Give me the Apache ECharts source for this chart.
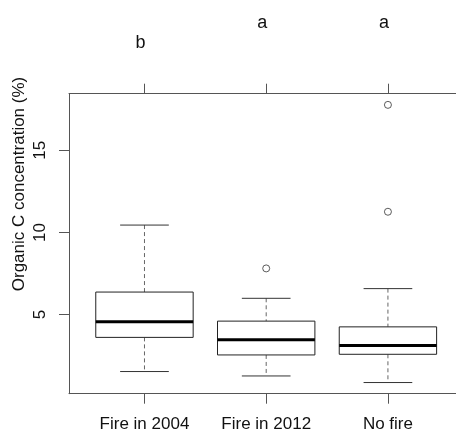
<!DOCTYPE html>
<html>
<head>
<meta charset="utf-8">
<script src="https://cdn.jsdelivr.net/npm/echarts@6/dist/echarts.min.js"></script>
<style>
  html, body { margin: 0; padding: 0; background: #fff; }
  #chart { width: 456px; height: 436px; }
</style>
</head>
<body>
<div id="chart"></div>
<script>
// groups and boxplot stats
const categories = ['Fire in 2004', 'Fire in 2012', 'No fire'];
const whiskerLow = [1.53, 1.26, 0.86];
const q1 = [3.61, 2.54, 2.58];
const median = [4.56, 3.46, 3.12];
const q3 = [6.37, 4.60, 4.25];
const whiskerHigh = [10.45, 5.99, 6.58];
const outliers = [[2, 7.81], [3, 11.26], [3, 17.77]];
const groupLetters = ['b', 'a', 'a'];
const yTicks = [5, 10, 15];
const xTicks = [1, 2, 3];

const FONT = "'Liberation Sans', Arial, sans-serif";
const AXIS_COLOR = '#555';

const boxData = categories.map((c, i) => [i + 1, whiskerLow[i], q1[i], median[i], q3[i], whiskerHigh[i]]);

function renderBox(params, api) {
  const x = api.value(0);
  const pLo = api.coord([x, api.value(1)]);
  const pQ1 = api.coord([x, api.value(2)]);
  const pMed = api.coord([x, api.value(3)]);
  const pQ3 = api.coord([x, api.value(4)]);
  const pHi = api.coord([x, api.value(5)]);
  const cx = pMed[0];
  const half = api.size([0.8, 0])[0] / 2;
  const cap = api.size([0.4, 0])[0] / 2;
  const dashed = { stroke: '#666', lineWidth: 1, lineDash: [4, 3] };
  const solid = { stroke: '#333', lineWidth: 1 };
  return {
    type: 'group',
    children: [
      { type: 'line', shape: { x1: cx, y1: pHi[1], x2: cx, y2: pQ3[1] }, style: dashed },
      { type: 'line', shape: { x1: cx, y1: pQ1[1], x2: cx, y2: pLo[1] }, style: dashed },
      { type: 'line', shape: { x1: cx - cap, y1: pHi[1], x2: cx + cap, y2: pHi[1] }, style: solid },
      { type: 'line', shape: { x1: cx - cap, y1: pLo[1], x2: cx + cap, y2: pLo[1] }, style: solid },
      { type: 'rect', shape: { x: cx - half, y: pQ3[1], width: half * 2, height: pQ1[1] - pQ3[1] },
        style: { fill: '#fff', stroke: '#222', lineWidth: 1 } },
      { type: 'line', shape: { x1: cx - half, y1: pMed[1], x2: cx + half, y2: pMed[1] },
        style: { stroke: '#000', lineWidth: 3 } }
    ]
  };
}

const chart = echarts.init(document.getElementById('chart'));

const option = {
  backgroundColor: '#fff',
  animation: false,
  grid: { left: 69, top: 93.7, width: 394.4, height: 300, outerBoundsMode: 'none' },
  xAxis: [
    {
      type: 'value', position: 'bottom', min: 0.38, max: 3.62,
      axisLine: { show: true, lineStyle: { color: AXIS_COLOR } },
      axisTick: { show: true, customValues: xTicks, length: 10, lineStyle: { color: AXIS_COLOR } },
      axisLabel: {
        customValues: xTicks, margin: 22, fontSize: 17, fontFamily: FONT, color: '#111',
        formatter: v => categories[v - 1]
      },
      splitLine: { show: false }
    },
    {
      type: 'value', position: 'top', min: 0.38, max: 3.62,
      axisLine: { show: true, lineStyle: { color: AXIS_COLOR } },
      axisTick: { show: true, customValues: xTicks, length: 10, lineStyle: { color: AXIS_COLOR } },
      axisLabel: { show: false },
      splitLine: { show: false }
    }
  ],
  yAxis: {
    type: 'value', min: 0.18, max: 18.45,
    axisLine: { show: true, lineStyle: { color: AXIS_COLOR } },
    axisTick: { show: true, customValues: yTicks, length: 10, lineStyle: { color: AXIS_COLOR } },
    axisLabel: { customValues: yTicks, rotate: 90, margin: 20, fontSize: 17, fontFamily: FONT, color: '#111' },
    splitLine: { show: false }
  },
  series: [
    {
      type: 'custom',
      renderItem: renderBox,
      data: boxData,
      encode: { x: 0, y: [1, 2, 3, 4, 5] },
      clip: false
    },
    {
      type: 'scatter',
      data: outliers,
      symbol: 'circle',
      symbolSize: 7,
      itemStyle: { color: '#fff', borderColor: '#333', borderWidth: 1 }
    }
  ]
};

chart.setOption(option);

// y title plus significance letters above each group
const letterTop = { a: 23, b: 43 };
const graphics = [
  {
    id: 'ytitle', type: 'text', x: 19, y: 184, rotation: Math.PI / 2,
    style: {
      text: 'Organic C concentration (%)', fontSize: 17, fontFamily: FONT, fill: '#111',
      textAlign: 'center', textVerticalAlign: 'middle'
    }
  }
].concat(groupLetters.map((l, i) => ({
  id: 'letter' + i,
  type: 'text',
  x: chart.convertToPixel({ xAxisIndex: 0 }, i + 1) - 4,
  y: letterTop[l],
  style: {
    text: l, fontSize: 18, fontFamily: FONT, fill: '#111',
    textAlign: 'center', textVerticalAlign: 'middle'
  }
})));
chart.setOption({ graphic: graphics });
</script>
</body>
</html>
